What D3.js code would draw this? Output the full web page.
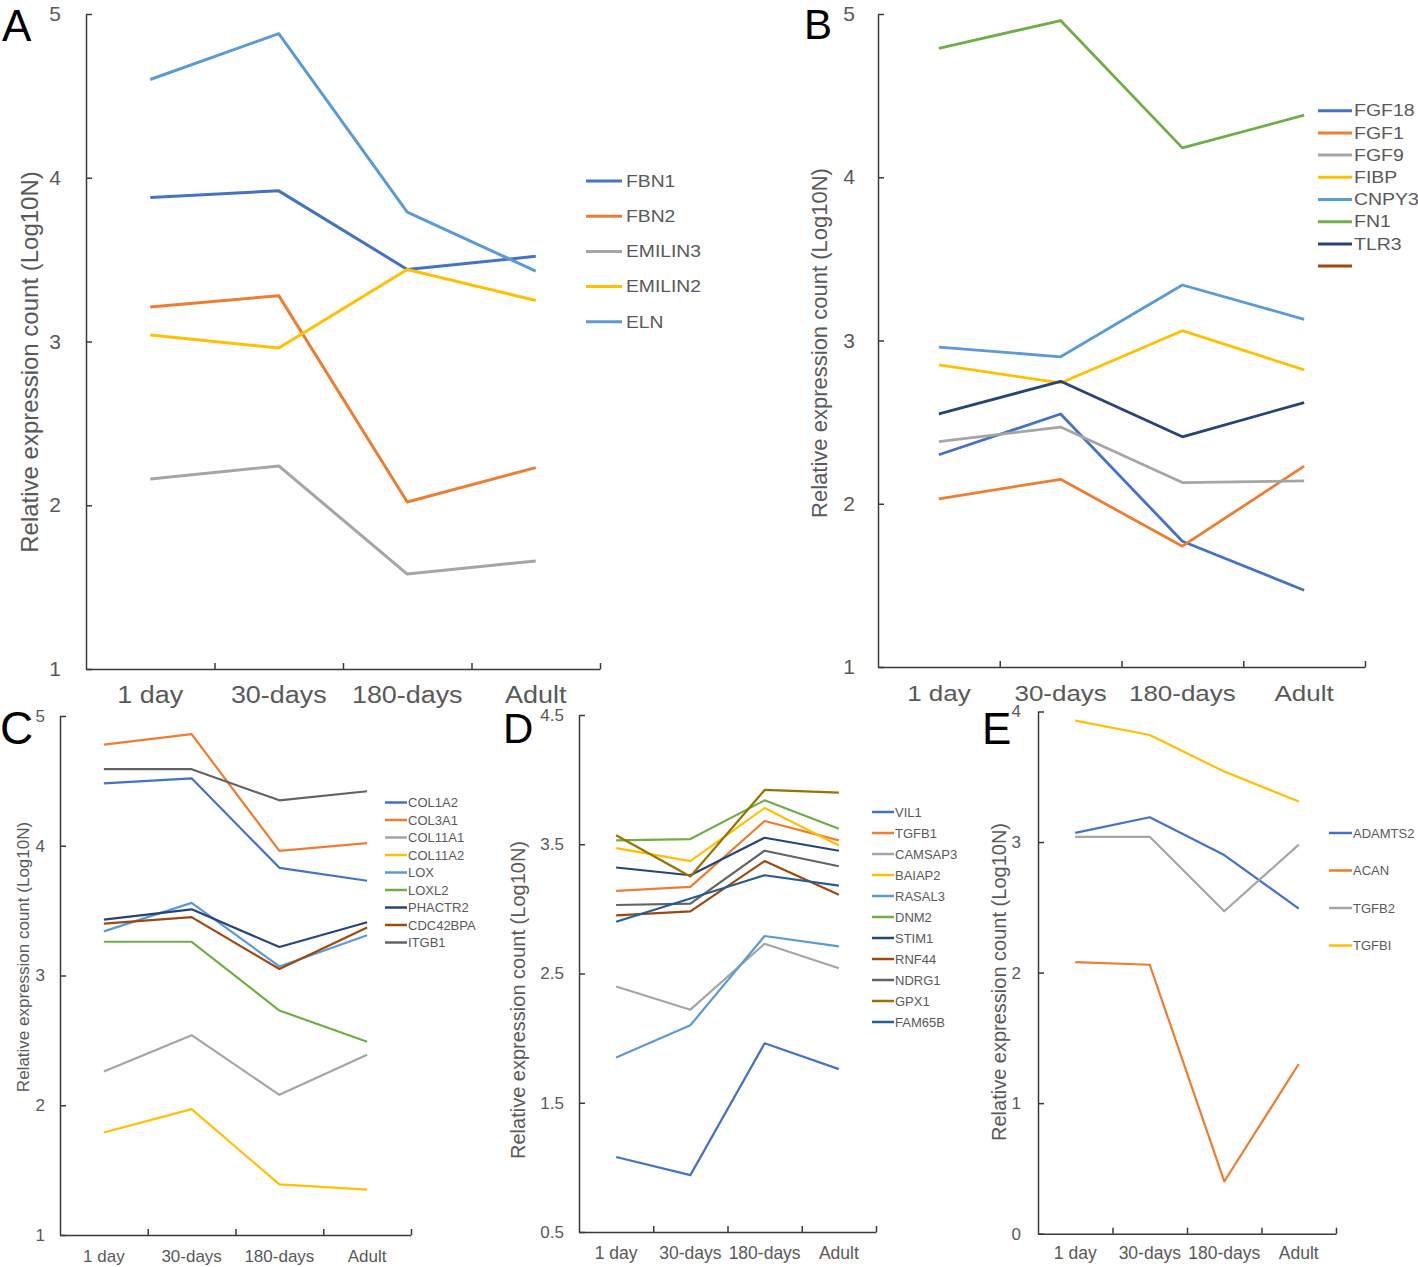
<!DOCTYPE html>
<html><head><meta charset="utf-8">
<script src="https://cdn.jsdelivr.net/npm/d3@7"></script>
<style>body{margin:0;background:#fff} svg{display:block;font-family:"Liberation Sans",Arial,sans-serif}</style>
</head><body><svg id="c" width="1418" height="1267"></svg>
<script>
// ---------- DATA ----------
const categories = ["1 day", "30-days", "180-days", "Adult"];
const yTitle = "Relative expression count (Log10N)";

const genesA = ["FBN1", "FBN2", "EMILIN3", "EMILIN2", "ELN"];
const valuesA = [
  [3.88, 3.92, 3.44, 3.52],
  [3.21, 3.28, 2.02, 2.23],
  [2.16, 2.24, 1.58, 1.66],
  [3.04, 2.96, 3.44, 3.25],
  [4.60, 4.88, 3.79, 3.43]
];
const ticksA = [1, 2, 3, 4, 5];

const genesB = ["FGF18", "FGF1", "FGF9", "FIBP", "CNPY3", "FN1", "TLR3", ""];
const valuesB = [
  [2.30, 2.55, 1.77, 1.47],
  [2.03, 2.15, 1.74, 2.23],
  [2.38, 2.47, 2.13, 2.14],
  [2.85, 2.74, 3.06, 2.82],
  [2.96, 2.90, 3.34, 3.13],
  [4.79, 4.96, 4.18, 4.38],
  [2.55, 2.75, 2.41, 2.62],
  []
];
const ticksB = [1, 2, 3, 4, 5];

const genesC = ["COL1A2", "COL3A1", "COL11A1", "COL11A2", "LOX", "LOXL2", "PHACTR2", "CDC42BPA", "ITGB1"];
const valuesC = [
  [4.48, 4.52, 3.83, 3.73],
  [4.78, 4.86, 3.96, 4.02],
  [2.26, 2.54, 2.08, 2.39],
  [1.79, 1.97, 1.39, 1.35],
  [3.34, 3.56, 3.07, 3.31],
  [3.26, 3.26, 2.73, 2.49],
  [3.43, 3.51, 3.22, 3.41],
  [3.40, 3.45, 3.05, 3.37],
  [4.59, 4.59, 4.35, 4.42]
];
const ticksC = [1, 2, 3, 4, 5];

const genesD = ["VIL1", "TGFB1", "CAMSAP3", "BAIAP2", "RASAL3", "DNM2", "STIM1", "RNF44", "NDRG1", "GPX1", "FAM65B"];
const valuesD = [
  [1.08, 0.94, 1.96, 1.76],
  [3.14, 3.17, 3.68, 3.53],
  [2.40, 2.22, 2.73, 2.54],
  [3.47, 3.37, 3.78, 3.49],
  [1.85, 2.10, 2.79, 2.71],
  [3.53, 3.54, 3.84, 3.62],
  [3.32, 3.26, 3.55, 3.45],
  [2.95, 2.98, 3.37, 3.11],
  [3.03, 3.04, 3.45, 3.33],
  [3.57, 3.25, 3.92, 3.90],
  [2.90, 3.08, 3.26, 3.18]
];
const ticksD = [0.5, 1.5, 2.5, 3.5, 4.5];

const genesE = ["ADAMTS2", "ACAN", "TGFB2", "TGFBI"];
const valuesE = [
  [3.07, 3.19, 2.90, 2.49],
  [2.08, 2.06, 0.40, 1.30],
  [3.04, 3.04, 2.47, 2.98],
  [3.93, 3.82, 3.54, 3.31]
];
const ticksE = [0, 1, 2, 3, 4];

// ---------- STYLE ----------
const palette = ["#4472C4", "#ED7D31", "#A5A5A5", "#FFC000", "#5B9BD5", "#70AD47", "#264478", "#9E480E", "#636363", "#997300", "#255E91"];
const axisColor = "#3a3a3a";
const textColor = "#595959";

const panels = [
  {letter: "A", genes: genesA, values: valuesA, ticks: ticksA, domain: [1, 5],
   x0: 86, x1: 600, yTop: 14, yBot: 669, tickFont: 21, tickPad: 25, xFont: 23, xPad: 18, stretch: 1.17,
   titleFont: 24, tx: 30, ty: 362, lw: 3,
   lg: {x0: 586, x1: 622, tx: 626, y0: 181, dy: 35.2, font: 16.5, lw: 3},
   L: {x: 2, y: 41, size: 44}},
  {letter: "B", genes: genesB, values: valuesB, ticks: ticksB, domain: [1, 5],
   x0: 878, x1: 1365, yTop: 14, yBot: 667, tickFont: 21, tickPad: 23, xFont: 22, xPad: 18, stretch: 1.18,
   titleFont: 22, tx: 819, ty: 343, lw: 2.8,
   lg: {x0: 1318, x1: 1352, tx: 1354, y0: 110.7, dy: 22.2, font: 16.5, lw: 3},
   L: {x: 804, y: 39, size: 42}},
  {letter: "C", genes: genesC, values: valuesC, ticks: ticksC, domain: [1, 5],
   x0: 60, x1: 411, yTop: 716, yBot: 1235, tickFont: 17, tickPad: 15, xFont: 17, xPad: 15, stretch: 1,
   titleFont: 17, tx: 23, ty: 957, lw: 2.2,
   lg: {x0: 385, x1: 407, tx: 408, y0: 802.5, dy: 17.5, font: 13, lw: 2.5},
   L: {x: 0, y: 744, size: 46}},
  {letter: "D", genes: genesD, values: valuesD, ticks: ticksD, domain: [0.5, 4.5],
   x0: 579, x1: 876, yTop: 715, yBot: 1232, tickFont: 17, tickPad: 15, xFont: 17.5, xPad: 15, stretch: 1,
   titleFont: 20, tx: 518, ty: 1000, lw: 2.2,
   lg: {x0: 872, x1: 894, tx: 895, y0: 812, dy: 21, font: 13, lw: 2.5},
   L: {x: 503, y: 743, size: 42}},
  {letter: "E", genes: genesE, values: valuesE, ticks: ticksE, domain: [0, 4],
   x0: 1038, x1: 1336, yTop: 711.5, yBot: 1233.7, tickFont: 17, tickPad: 17, xFont: 17.5, xPad: 13, stretch: 1,
   titleFont: 20, tx: 999, ty: 982, lw: 2.2,
   lg: {x0: 1329, x1: 1352, tx: 1353, y0: 833, dy: 37.5, font: 13, lw: 2.5},
   L: {x: 982, y: 744, size: 44}}
];

const svg = d3.select("#c");

function drawPanel(p) {
  const g = svg.append("g");
  const x = d3.scaleBand().domain(categories).range([p.x0, p.x1]).padding(0);
  const y = d3.scaleLinear().domain(p.domain).range([p.yBot, p.yTop]);

  // y axis
  const ya = g.append("g").attr("transform", `translate(${p.x0},0)`)
    .call(d3.axisLeft(y).tickValues(p.ticks).tickSize(-6).tickSizeOuter(0)
      .tickPadding(p.tickPad).tickFormat(d3.format("")));
  ya.select(".domain").attr("stroke", axisColor).attr("stroke-width", 1.5);
  ya.selectAll(".tick line").attr("stroke", axisColor).attr("stroke-width", 1.5);
  ya.selectAll(".tick text").attr("fill", textColor).attr("font-size", p.tickFont)
    .attr("font-family", "Liberation Sans, Arial, sans-serif");

  // x axis labels
  const xa = g.append("g").attr("transform", `translate(0,${p.yBot})`)
    .call(d3.axisBottom(x).tickSize(0).tickPadding(p.xPad));
  xa.select(".domain").attr("stroke", axisColor).attr("stroke-width", 1.5);
  xa.selectAll(".tick text").attr("fill", textColor).attr("font-size", p.xFont)
    .attr("font-family", "Liberation Sans, Arial, sans-serif")
    .attr("transform", `scale(${p.stretch},1)`);

  // x tick marks at band boundaries
  const bx = d3.scaleLinear().domain([0, categories.length]).range([p.x0, p.x1]);
  const xt = g.append("g").attr("transform", `translate(0,${p.yBot})`)
    .call(d3.axisBottom(bx).tickValues(d3.range(1, categories.length + 1)).tickSize(-6).tickFormat(() => ""));
  xt.select(".domain").remove();
  xt.selectAll(".tick line").attr("stroke", axisColor).attr("stroke-width", 1.5);

  // lines
  const line = d3.line()
    .x((d, i) => x(categories[i]) + x.bandwidth() / 2)
    .y(d => y(d));
  p.values.forEach((vals, i) => {
    if (!vals.length) return;
    g.append("path").datum(vals).attr("d", line)
      .attr("fill", "none").attr("stroke", palette[i])
      .attr("stroke-width", p.lw).attr("stroke-linejoin", "round");
  });

  // legend
  const lg = p.lg;
  p.genes.forEach((name, i) => {
    const yy = lg.y0 + i * lg.dy;
    g.append("line").attr("x1", lg.x0).attr("x2", lg.x1).attr("y1", yy).attr("y2", yy)
      .attr("stroke", palette[i]).attr("stroke-width", lg.lw);
    g.append("text").attr("transform", `translate(${lg.tx},${yy}) scale(${p.stretch},1)`)
      .attr("dy", "0.35em").attr("font-size", lg.font).attr("fill", textColor).text(name);
  });

  // y title
  g.append("text").attr("transform", `translate(${p.tx},${p.ty}) rotate(-90)`)
    .attr("text-anchor", "middle").attr("dy", "0.35em")
    .attr("font-size", p.titleFont).attr("fill", textColor).text(yTitle);

  // panel letter
  g.append("text").attr("x", p.L.x).attr("y", p.L.y).attr("font-size", p.L.size)
    .attr("fill", "#000").text(p.letter);
}

panels.forEach(drawPanel);
</script>
</body></html>
